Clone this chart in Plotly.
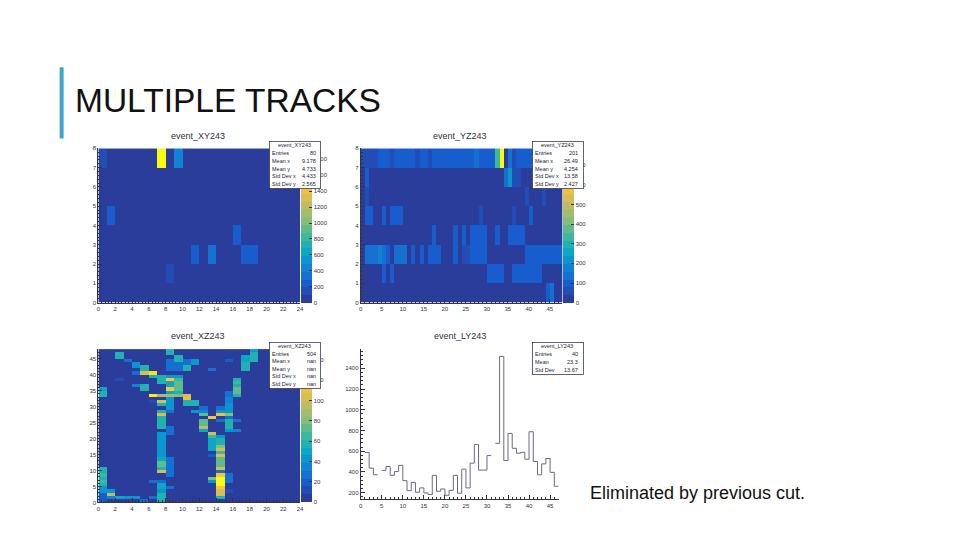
import numpy as np
import plotly.graph_objects as go

# (x bin, y bin, counts) for the non empty cells
xy_cells = [(0, 7, 130), (7, 7, 1960), (9, 7, 420), (1, 4, 210), (16, 3, 230),
            (11, 2, 210), (13, 2, 370), (17, 2, 220), (18, 2, 220), (8, 1, 190)]

yz_row7 = [45, 45, 45, 45, 100, 100, 100, 60, 100, 100, 100, 100, 100, 60, 90, 90, 60, 90, 90, 90, 90, 90, 90, 90,
           90, 90, 90, 120, 90, 90, 90, 90, 340, 795, 20, 130, 40, 110, 110, 110, 110, 110, 110, 110, 110, 110, 110, 110]
yz_cells = [(1, 6, 80), (34, 6, 130), (35, 6, 200), (36, 6, 70), (37, 6, 70),
            (1, 5, 70), (39, 5, 70), (43, 5, 60),
            (1, 4, 110), (2, 4, 110), (5, 4, 90), (7, 4, 110), (8, 4, 110), (9, 4, 110), (28, 4, 70), (36, 4, 70), (40, 4, 110),
            (17, 3, 90), (22, 3, 80), (24, 3, 80), (26, 3, 90), (27, 3, 90), (28, 3, 90), (29, 3, 90),
            (32, 3, 80), (35, 3, 80), (36, 3, 110), (37, 3, 80), (38, 3, 100),
            (1, 2, 130), (2, 2, 130), (3, 2, 130), (4, 2, 180), (5, 2, 130), (6, 2, 90), (8, 2, 120), (9, 2, 120), (10, 2, 120),
            (12, 2, 90), (14, 2, 90), (16, 2, 90), (17, 2, 110), (18, 2, 100), (22, 2, 100), (24, 2, 70), (25, 2, 70),
            (26, 2, 110), (27, 2, 110), (28, 2, 110), (29, 2, 90), (39, 2, 80), (40, 2, 80), (41, 2, 80), (42, 2, 80),
            (43, 2, 80), (44, 2, 80), (45, 2, 80), (46, 2, 80), (47, 2, 80),
            (5, 1, 90), (7, 1, 90), (30, 1, 80), (31, 1, 90), (32, 1, 110), (33, 1, 110), (36, 1, 90), (37, 1, 90), (38, 1, 90),
            (39, 1, 90), (40, 1, 90), (41, 1, 80), (42, 1, 80),
            (44, 0, 80), (45, 0, 130)]

xz_cells = [(0, 0, 20), (0, 1, 20), (0, 2, 20), (0, 3, 40), (0, 4, 40), (0, 5, 60), (0, 6, 65), (0, 7, 60), (0, 8, 65), (0, 9, 60), (0, 10, 60),
            (0, 33, 55), (0, 34, 60), (0, 35, 50),
            (1, 1, 35), (1, 2, 95), (1, 3, 40),
            (2, 1, 50), (3, 1, 45), (4, 1, 45), (5, 0, 25), (6, 1, 30), (6, 6, 30),
            (2, 45, 60), (2, 46, 60), (2, 38, 15), (3, 44, 30), (4, 42, 40), (4, 43, 40), (4, 40, 30), (4, 36, 35),
            (5, 41, 55), (5, 42, 55), (5, 40, 105), (5, 35, 60), (5, 36, 60),
            (6, 40, 130), (6, 39, 60), (6, 33, 140), (6, 31, 15),
            (7, 0, 60), (7, 1, 60), (7, 2, 55), (7, 3, 40), (7, 4, 50), (7, 5, 50), (7, 6, 30), (7, 9, 105), (7, 10, 60), (7, 11, 70),
            (7, 12, 70), (7, 13, 50), (7, 14, 45), (7, 15, 45), (7, 16, 45), (7, 17, 45), (7, 18, 45), (7, 19, 45), (7, 20, 45), (7, 21, 45),
            (7, 23, 60), (7, 24, 60), (7, 25, 60), (7, 26, 60), (7, 27, 105), (7, 28, 60), (7, 30, 55), (7, 31, 105), (7, 33, 90),
            (7, 37, 55), (7, 38, 55), (7, 39, 60),
            (8, 4, 30), (8, 8, 30), (8, 9, 30), (8, 10, 30), (8, 11, 30), (8, 12, 30), (8, 13, 30), (8, 21, 25), (8, 22, 25), (8, 23, 25),
            (8, 28, 30), (8, 29, 40), (8, 30, 40), (8, 31, 40), (8, 32, 40), (8, 33, 90), (8, 34, 50), (8, 35, 115), (8, 36, 50), (8, 37, 50),
            (8, 38, 115), (8, 39, 40), (8, 41, 30), (8, 42, 30), (8, 43, 30), (8, 44, 30), (8, 46, 60), (8, 47, 60),
            (9, 33, 80), (9, 34, 60), (9, 35, 70), (9, 36, 75), (9, 37, 70), (9, 38, 65), (9, 39, 40), (9, 41, 25), (9, 42, 25), (9, 43, 30), (9, 44, 60), (9, 45, 60),
            (10, 30, 60), (10, 31, 60), (10, 32, 110), (10, 33, 100), (10, 41, 55), (10, 42, 55), (10, 43, 25), (10, 44, 25),
            (11, 28, 40), (11, 30, 55), (11, 31, 55), (11, 43, 40), (11, 44, 40),
            (12, 22, 50), (12, 23, 95), (12, 24, 70), (12, 25, 70), (12, 27, 70), (12, 28, 35), (12, 29, 30),
            (13, 6, 45), (13, 7, 80), (13, 14, 20), (13, 16, 50), (13, 17, 50), (13, 18, 50), (13, 19, 50), (13, 20, 65), (13, 21, 100), (13, 26, 115), (13, 41, 30),
            (14, 1, 60), (14, 2, 105), (14, 3, 105), (14, 4, 120), (14, 5, 145), (14, 6, 145), (14, 7, 145), (14, 8, 120), (14, 9, 30), (14, 10, 105),
            (14, 11, 70), (14, 12, 70), (14, 13, 70), (14, 14, 100), (14, 15, 65), (14, 16, 100), (14, 17, 80), (14, 18, 60), (14, 19, 60), (14, 20, 40),
            (14, 25, 30), (14, 27, 110), (14, 28, 40), (14, 29, 30),
            (15, 3, 15), (15, 6, 30), (15, 7, 30), (15, 8, 30), (15, 22, 45), (15, 23, 55), (15, 24, 55), (15, 25, 55), (15, 26, 30), (15, 27, 80),
            (15, 28, 40), (15, 29, 40), (15, 30, 40), (15, 31, 35), (15, 32, 35), (15, 33, 30), (15, 34, 30), (15, 44, 20),
            (16, 22, 35), (16, 25, 30), (16, 33, 60), (16, 34, 70), (16, 35, 70), (16, 36, 60), (16, 37, 65), (16, 38, 60),
            (17, 41, 55), (17, 42, 55), (17, 43, 55), (17, 44, 50), (17, 45, 50),
            (18, 44, 60), (18, 45, 60), (18, 46, 60), (18, 47, 45)]

ly_counts = [None, 587, 437, 373, None, 415, 453, 367, 405, 463, 316, 220, 300, 204, 246, 198, 182, 367, 214, 236, 175, 223, 367, 195,
             427, 246, 485, 664, 418, 418, 558, None, 676, 1515, 510, 772, 628, 581, 590, 523, 788, 501, 373, 478, 530, 396, 262]

xy_stats = [("Entries", "80"), ("Mean x", "9.178"), ("Mean y", "4.733"), ("Std Dev x", "4.433"), ("Std Dev y", "2.565")]
yz_stats = [("Entries", "201"), ("Mean x", "26.49"), ("Mean y", "4.254"), ("Std Dev x", "13.58"), ("Std Dev y", "2.427")]
xz_stats = [("Entries", "504"), ("Mean x", "nan"), ("Mean y", "nan"), ("Std Dev x", "nan"), ("Std Dev y", "nan")]
ly_stats = [("Entries", "40"), ("Mean", "23.3"), ("Std Dev", "13.67")]

W, H = 960, 540
TICK = "#333344"

# ROOT bird palette as it looks on these colour bars, cut into 20 contour levels
stop_pos = [0, 0.1, 0.2, 0.3, 0.4, 0.53, 0.66, 0.8, 1]
stops = np.array([[42, 61, 154], [25, 92, 205], [20, 128, 214], [6, 164, 202], [46, 183, 164],
                  [135, 191, 119], [209, 187, 89], [254, 200, 50], [249, 251, 14]])
levels = []
for i in range(20):
    rgb = [np.interp(i / 19, stop_pos, stops[:, c]) for c in range(3)]
    col = "rgb(%d,%d,%d)" % tuple(rgb)
    levels += [[i / 20, col], [(i + 1) / 20, col]]


def px(x):
    return x / W


def py(y):
    return 1 - y / H


def make_z(cells, nx, ny):
    z = np.zeros((ny, nx))
    for x, y, v in cells:
        z[y, x] = v
    return z


fig = go.Figure()


def axes(n, box, xmax, ymax, xstep, ystep, yrange=None):
    left, top, right, bottom = box
    base = dict(showgrid=False, zeroline=False, showline=True, linecolor=TICK, linewidth=1, mirror=False,
                ticks="inside", ticklen=4, tickcolor=TICK, tickwidth=0.7,
                tickfont=dict(family="Liberation Sans", size=6, color=TICK))
    xa = dict(base, domain=[px(left), px(right)], range=[0, xmax], dtick=xstep, tick0=0, anchor="y" + n,
              minor=dict(ticks="inside", ticklen=2, tickcolor=TICK, tickwidth=0.5, dtick=xstep / 5))
    ya = dict(base, domain=[py(bottom), py(top)], range=yrange or [0, ymax], dtick=ystep, tick0=0, anchor="x" + n,
              minor=dict(ticks="inside", ticklen=2, tickcolor=TICK, tickwidth=0.5, dtick=ystep / 5))
    fig.update_layout({"xaxis" + n: xa, "yaxis" + n: ya})


def heat(n, box, z, zmax, zstep):
    left, top, right, bottom = box
    fig.add_trace(go.Heatmap(z=z, x0=0.5, dx=1, y0=0.5, dy=1, xaxis="x" + n, yaxis="y" + n, zmin=0, zmax=zmax,
                             colorscale=levels, hoverinfo="skip",
                             colorbar=dict(x=px(right + 1), xanchor="left", xpad=0, ypad=0, y=py(bottom), yanchor="bottom",
                                           thickness=11, thicknessmode="pixels", len=bottom - top, lenmode="pixels",
                                           outlinewidth=0, ticks="inside", ticklen=3, tickcolor=TICK, dtick=zstep, tick0=0,
                                           tickfont=dict(family="Liberation Sans", size=6, color=TICK))))


def stats_box(name, rows, left, top, right, bottom):
    note = dict(showarrow=False, xref="paper", yref="paper", yanchor="middle",
                font=dict(family="Liberation Sans", size=5.5, color="#222233"))
    fig.add_annotation(x=px(left), y=py(top), xanchor="left", yanchor="top", text=" ", width=right - left, height=bottom - top,
                       bgcolor="white", bordercolor="#222233", borderwidth=0.7, borderpad=0, showarrow=False, xref="paper", yref="paper")
    step = (bottom - top) / (len(rows) + 1)
    fig.add_annotation(note, x=px((left + right) / 2), y=py(top + step / 2), xanchor="center", text=name)
    for i, (label, value) in enumerate(rows):
        fig.add_annotation(note, x=px(left + 1), y=py(top + step * (i + 1.5)), xanchor="left", text=label)
        fig.add_annotation(note, x=px(right - 2), y=py(top + step * (i + 1.5)), xanchor="right", text=value)


def hist_title(text, x, y):
    fig.add_annotation(x=px(x), y=py(y), xanchor="center", yanchor="middle", text=text, showarrow=False, xref="paper", yref="paper",
                       font=dict(family="Liberation Sans", size=9, color="#333344"))


xy_box = (97, 147, 300, 303)
yz_box = (361, 147, 564, 303)
xz_box = (97, 350, 300, 505)
ly_box = (361, 350, 560, 502)

axes("", xy_box, 24, 8, 2, 1)
axes("2", yz_box, 48, 8, 5, 1)
axes("3", xz_box, 24, 48, 2, 5)
axes("4", ly_box, 47, 1585, 5, 200, yrange=[135, 1585])

heat("", xy_box, make_z(xy_cells, 24, 8), 1960, 200)
yz_z = make_z(yz_cells, 48, 8)
yz_z[7] = yz_row7
heat("2", yz_box, yz_z, 795, 100)
heat("3", xz_box, make_z(xz_cells, 24, 48), 152, 20)

# histogram outline, broken where the bin is blank in the picture
ly_x, ly_y = [], []
for i, v in enumerate(ly_counts):
    ly_x += [i, i + 1]
    ly_y += [v, v]
fig.add_trace(go.Scatter(x=ly_x, y=ly_y, mode="lines", xaxis="x4", yaxis="y4", connectgaps=False,
                         line=dict(color="#6a6a84", width=1), hoverinfo="skip"))

hist_title("event_XY243", 197, 134)
hist_title("event_YZ243", 461, 134)
hist_title("event_XZ243", 197, 337)
hist_title("event_LY243", 461, 337)

stats_box("event_XY243", xy_stats, 269, 140, 320, 187)
stats_box("event_YZ243", yz_stats, 533, 140, 584, 187)
stats_box("event_XZ243", xz_stats, 269, 343, 320, 389)
stats_box("event_LY243", ly_stats, 533, 343, 584, 375)

# slide furniture
fig.add_shape(type="rect", xref="paper", yref="paper", x0=px(58), x1=px(62), y0=py(137), y1=py(65),
              fillcolor="#3fa3cc", line_width=0)
fig.add_annotation(x=px(71.5), y=py(99), xanchor="left", yanchor="middle", text="MULTIPLE TRACKS", showarrow=False, xref="paper", yref="paper",
                   font=dict(family="Liberation Sans", size=33.5, color="#111111"))
fig.add_annotation(x=px(590), y=py(496), xanchor="left", yanchor="middle", text="Eliminated by previous cut.", showarrow=False, xref="paper", yref="paper",
                   font=dict(family="Liberation Sans", size=18, color="#111111"))

fig.update_layout(width=W, height=H, margin=dict(l=0, r=0, t=0, b=0), paper_bgcolor="white", plot_bgcolor="white",
                  showlegend=False, autosize=False)
fig.write_html("out.html", config=dict(displayModeBar=False), post_script="document.body.style.margin='0';")
